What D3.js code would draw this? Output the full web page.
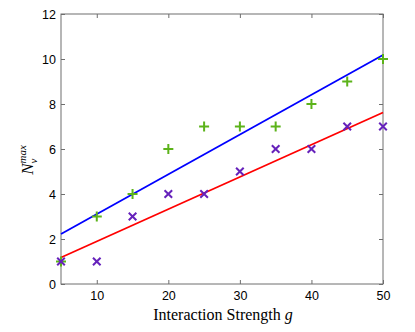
<!DOCTYPE html>
<html><head><meta charset="utf-8">
<script src="https://cdn.jsdelivr.net/npm/d3@7"></script>
<style>body{margin:0;background:#fff}svg{display:block}</style>
</head><body>
<script>
const gValues = [5,10,15,20,25,30,35,40,45,50];
const greenPlus = [1,3,4,6,7,7,7,8,9,10];
const purpleX = [1,1,3,4,4,5,6,6,7,7];
const blueFitX = [5,50];
const blueFitY = [2.22,10.18];
const redFitX = [5,50];
const redFitY = [1.18,7.62];
const xTicks = [10,20,30,40,50];
const yTicks = [0,2,4,6,8,10,12];

const W=415,H=332;
const m={l:61,r:32,t:14,b:48};
const svg=d3.select("body").append("svg").attr("width",W).attr("height",H);
const x=d3.scaleLinear().domain([5,50]).range([m.l,W-m.r]);
const y=d3.scaleLinear().domain([0,12]).range([H-m.b,m.t]);
const axisCol="#6e6e6e";
const tickLen=4;

// box
svg.append("rect").attr("x",x(5)).attr("y",y(12)).attr("width",x(50)-x(5)).attr("height",y(0)-y(12))
  .attr("fill","none").attr("stroke",axisCol).attr("stroke-width",1);

function styleAxis(g){
  g.select(".domain").remove();
  g.selectAll(".tick line").attr("stroke",axisCol);
  g.selectAll(".tick text").attr("fill","#000").attr("font-family","'Liberation Sans',Arial,sans-serif").attr("font-size","12.5px");
}
// bottom
svg.append("g").attr("transform",`translate(0,${y(0)})`)
  .call(d3.axisBottom(x).tickValues(xTicks).tickSize(-tickLen).tickPadding(7).tickFormat(d3.format("d")))
  .call(styleAxis);
// top ticks
svg.append("g").attr("transform",`translate(0,${y(12)})`)
  .call(d3.axisTop(x).tickValues(xTicks).tickSize(-tickLen).tickFormat(""))
  .call(styleAxis);
// left
svg.append("g").attr("transform",`translate(${x(5)},0)`)
  .call(d3.axisLeft(y).tickValues(yTicks).tickSize(-tickLen).tickPadding(5).tickFormat(d3.format("d")))
  .call(styleAxis);
// right ticks
svg.append("g").attr("transform",`translate(${x(50)},0)`)
  .call(d3.axisRight(y).tickValues(yTicks).tickSize(-tickLen).tickFormat(""))
  .call(styleAxis);

// fit lines
const line=d3.line().x(d=>x(d[0])).y(d=>y(d[1]));
svg.append("path").datum(d3.zip(blueFitX,blueFitY)).attr("d",line).attr("stroke","#0000ff").attr("stroke-width",1.8).attr("fill","none");
svg.append("path").datum(d3.zip(redFitX,redFitY)).attr("d",line).attr("stroke","#ff0000").attr("stroke-width",1.8).attr("fill","none");

// plus markers
const ps=5;
svg.append("g").selectAll("path").data(d3.zip(gValues,greenPlus)).join("path")
  .attr("d",d=>`M${x(d[0])-ps},${y(d[1])}H${x(d[0])+ps}M${x(d[0])},${y(d[1])-ps}V${y(d[1])+ps}`)
  .attr("stroke","#5cb31a").attr("stroke-width",2).attr("fill","none");
// x markers
const xs=3.8;
svg.append("g").selectAll("path").data(d3.zip(gValues,purpleX)).join("path")
  .attr("d",d=>{const cx=x(d[0]),cy=y(d[1]);return `M${cx-xs},${cy-xs}L${cx+xs},${cy+xs}M${cx-xs},${cy+xs}L${cx+xs},${cy-xs}`;})
  .attr("stroke","#6622bb").attr("stroke-width",2).attr("fill","none");

// x label
const xl=svg.append("text").attr("x",(x(5)+x(50))/2+1).attr("y",320).attr("text-anchor","middle")
  .attr("font-family","'Liberation Serif','DejaVu Serif',serif").attr("font-size","16px").attr("fill","#000");
xl.append("tspan").text("Interaction Strength ");
xl.append("tspan").attr("font-style","italic").text("g");

// y label
const yl=svg.append("text").attr("transform","translate(33,160) rotate(-90)").attr("text-anchor","middle")
  .attr("font-family","'Liberation Serif','DejaVu Serif',serif").attr("font-size","17px").attr("font-style","italic").attr("fill","#000");
yl.append("tspan").text("N");
yl.append("tspan").attr("font-size","11px").attr("dy",4).attr("dx",0).text("v");
yl.append("tspan").attr("font-size","11px").attr("dy",-11).attr("dx",-5).text("max");
</script>
</body></html>
